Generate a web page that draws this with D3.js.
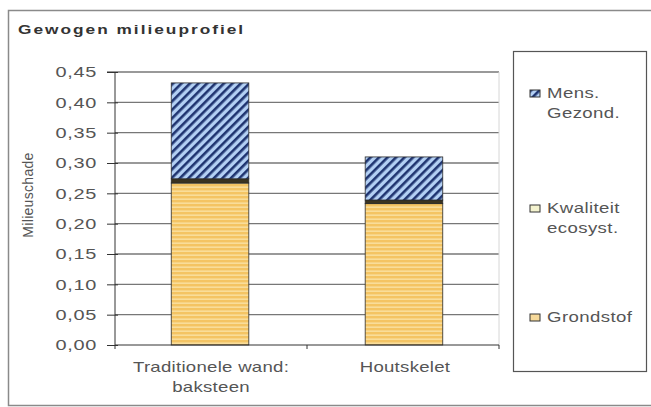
<!DOCTYPE html>
<html>
<head>
<meta charset="utf-8">
<script src="https://cdn.jsdelivr.net/npm/d3@7"></script>
<style>
  body { margin: 0; background: #fff; }
  svg { display: block; font-family: "Liberation Sans", Arial, sans-serif; }
</style>
</head>
<body>
<div id="chart"></div>
<script>
const categories = ["Traditionele wand:\nbaksteen", "Houtskelet"];
const seriesNames = ["Grondstof", "Kwaliteit ecosyst.", "Mens. Gezond."];
const grondstof = [0.267, 0.233];
const kwaliteit = [0.007, 0.006];
const mensGezond = [0.158, 0.071];
const yTicks = [0, 0.05, 0.10, 0.15, 0.20, 0.25, 0.30, 0.35, 0.40, 0.45];

const width = 651, height = 407;
const plot = { left: 115, right: 499, top: 72, bottom: 345 };
// the original picture is stretched sideways, so text gets a wider look
const stretch = 1.33;

const svg = d3.select("#chart").append("svg")
  .attr("width", width)
  .attr("height", height);

const defs = svg.append("defs");

// blue with dark diagonal stripes
const pMens = defs.append("pattern")
  .attr("id", "pMens")
  .attr("patternUnits", "userSpaceOnUse")
  .attr("width", 6).attr("height", 6)
  .attr("patternTransform", "rotate(45)");
pMens.append("rect").attr("width", 6).attr("height", 6).attr("fill", "#b3d0f4");
pMens.append("rect").attr("width", 2.6).attr("height", 6).attr("fill", "#1f3470");

// yellow with light horizontal stripes
const pGrond = defs.append("pattern")
  .attr("id", "pGrond")
  .attr("patternUnits", "userSpaceOnUse")
  .attr("width", 4).attr("height", 4);
pGrond.append("rect").attr("width", 4).attr("height", 4).attr("fill", "#f4c463");
pGrond.append("rect").attr("y", 2.5).attr("width", 4).attr("height", 1.3).attr("fill", "#fbe3a6");

const fills = ["url(#pGrond)", "#3a3320", "url(#pMens)"];
const legendFills = ["#f6d99a", "#f4f3cf", "url(#pMens)"];

// outer frame
svg.append("rect")
  .attr("x", 8.5).attr("y", 10.5)
  .attr("width", 660).attr("height", 395)
  .attr("fill", "#fff")
  .attr("stroke", "#8a8a8a")
  .attr("stroke-width", 1.5);

svg.append("text")
  .attr("transform", `translate(18,34) scale(${stretch},1)`)
  .attr("font-size", 13).attr("font-weight", "bold")
  .attr("letter-spacing", 1.5)
  .attr("fill", "#333")
  .text("Gewogen milieuprofiel");

const x = d3.scaleBand()
  .domain(categories)
  .range([plot.left, plot.right])
  .paddingInner(0.6)
  .paddingOuter(0.29);

const y = d3.scaleLinear()
  .domain([0, 0.45])
  .range([plot.bottom, plot.top]);

// gridlines
svg.append("g")
  .selectAll("line")
  .data(yTicks.slice(1))
  .join("line")
  .attr("x1", plot.left).attr("x2", plot.right)
  .attr("y1", d => y(d)).attr("y2", d => y(d))
  .attr("stroke", "#777")
  .attr("stroke-width", 1.3);

// right edge of plot area
svg.append("line")
  .attr("x1", plot.right).attr("x2", plot.right)
  .attr("y1", plot.top).attr("y2", plot.bottom)
  .attr("stroke", "#d6d6d6");

// stacked bars
const stackData = categories.map((c, i) => ({
  cat: c, g: grondstof[i], k: kwaliteit[i], m: mensGezond[i]
}));
const stack = d3.stack().keys(["g", "k", "m"]);
const layers = stack(stackData);

svg.append("g")
  .selectAll("g")
  .data(layers)
  .join("g")
  .attr("fill", (d, i) => fills[i])
  .selectAll("rect")
  .data(d => d)
  .join("rect")
  .attr("x", d => x(d.data.cat))
  .attr("width", x.bandwidth())
  .attr("y", d => y(d[1]))
  .attr("height", d => y(d[0]) - y(d[1]))
  .attr("stroke", "#2b2b2b")
  .attr("stroke-width", 0.8);

// y axis
const yAxis = svg.append("g")
  .attr("transform", `translate(${plot.left},0)`)
  .call(d3.axisLeft(y)
    .tickValues(yTicks)
    .tickSize(8)
    .tickFormat(d => d3.format(".2f")(d).replace(".", ",")));
yAxis.select(".domain").attr("stroke", "#333").attr("d", `M-8,${plot.top}H0V${plot.bottom}`);
yAxis.selectAll(".tick line").attr("stroke", "#333").attr("x1", 3);
yAxis.selectAll("text")
  .attr("x", 0)
  .attr("transform", `translate(-18,0) scale(${stretch},1)`)
  .attr("font-size", 15)
  .attr("letter-spacing", 0.5)
  .attr("fill", "#555");

// x axis
const xAxis = svg.append("g")
  .attr("transform", `translate(0,${plot.bottom})`)
  .call(d3.axisBottom(x).tickSize(0).tickFormat(""));
xAxis.select(".domain").attr("stroke", "#333").attr("d", `M${plot.left},0H${plot.right}`);
// category separators
svg.append("g")
  .selectAll("line")
  .data([plot.left, (plot.left + plot.right) / 2, plot.right])
  .join("line")
  .attr("x1", d => d).attr("x2", d => d)
  .attr("y1", plot.bottom).attr("y2", plot.bottom + 4)
  .attr("stroke", "#333");

// category labels
svg.append("g")
  .selectAll("text")
  .data(categories)
  .join("text")
  .attr("transform", d => `translate(${x(d) + x.bandwidth() / 2 + 1},372) scale(${stretch},1)`)
  .attr("text-anchor", "middle")
  .attr("font-size", 14)
  .attr("letter-spacing", 0.2)
  .attr("fill", "#555")
  .selectAll("tspan")
  .data(d => d.split("\n"))
  .join("tspan")
  .attr("x", 0)
  .attr("dy", (d, i) => i === 0 ? 0 : 20)
  .text(d => d);

// y axis title
svg.append("text")
  .attr("transform", "translate(33,195) rotate(-90)")
  .attr("text-anchor", "middle")
  .attr("font-size", 14)
  .attr("letter-spacing", 0.3)
  .attr("fill", "#555")
  .text("Milieuschade");

// legend
svg.append("rect")
  .attr("x", 513.5).attr("y", 51.5)
  .attr("width", 133).attr("height", 320)
  .attr("fill", "#fff")
  .attr("stroke", "#555")
  .attr("stroke-width", 1.2);

const legendItems = [
  { name: seriesNames[2], lines: ["Mens.", "Gezond."], fill: legendFills[2], y: 98 },
  { name: seriesNames[1], lines: ["Kwaliteit", "ecosyst."], fill: legendFills[1], y: 213 },
  { name: seriesNames[0], lines: ["Grondstof"], fill: legendFills[0], y: 322 }
];

const lg = svg.append("g")
  .selectAll("g")
  .data(legendItems)
  .join("g")
  .attr("transform", d => `translate(530,${d.y})`);
lg.append("rect")
  .attr("x", 0).attr("y", -8)
  .attr("width", 10).attr("height", 7)
  .attr("fill", d => d.fill)
  .attr("stroke", "#333")
  .attr("stroke-width", 1);
lg.append("text")
  .attr("transform", `translate(17,0) scale(${stretch},1)`)
  .attr("font-size", 14)
  .attr("letter-spacing", 0.3)
  .attr("fill", "#555")
  .selectAll("tspan")
  .data(d => d.lines)
  .join("tspan")
  .attr("x", 0)
  .attr("dy", (d, i) => i === 0 ? 0 : 20)
  .text(d => d);
</script>
</body>
</html>
